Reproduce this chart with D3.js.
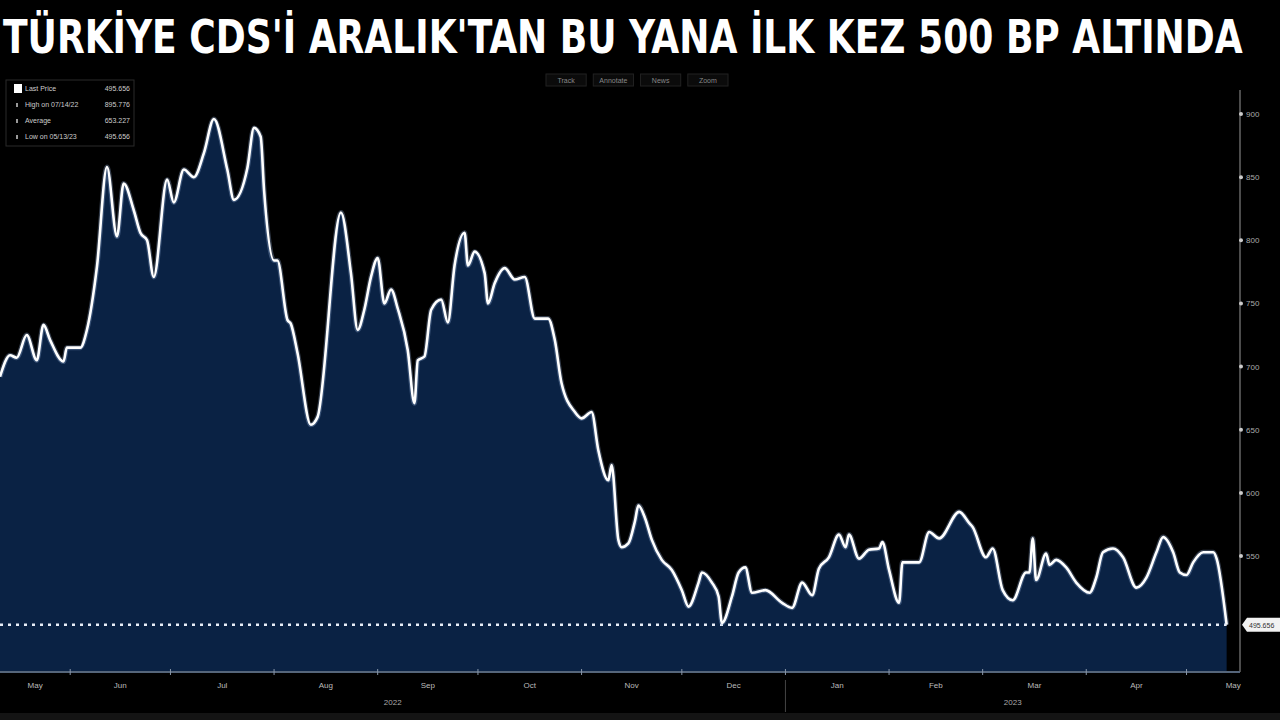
<!DOCTYPE html>
<html>
<head>
<meta charset="utf-8">
<script src="https://cdn.jsdelivr.net/npm/d3@7"></script>
<style>
  html, body { margin: 0; padding: 0; background: #000; }
  svg { display: block; }
</style>
</head>
<body>
<div id="container"></div>
<script>
// declaration
const w = 1280;
const h = 720;
const title = "TÜRKİYE CDS'İ ARALIK'TAN BU YANA İLK KEZ 500 BP ALTINDA";

// data
const dates = [
  "2022-05-11","2022-05-14","2022-05-16","2022-05-19","2022-05-22","2022-05-24","2022-05-26","2022-05-30","2022-05-31",
  "2022-06-04","2022-06-06","2022-06-09","2022-06-12","2022-06-15","2022-06-17","2022-06-20","2022-06-22","2022-06-24","2022-06-26","2022-06-30",
  "2022-07-02","2022-07-05","2022-07-08","2022-07-11","2022-07-14","2022-07-18","2022-07-20","2022-07-24","2022-07-26","2022-07-28","2022-07-29",
  "2022-08-01","2022-08-02","2022-08-05","2022-08-06","2022-08-08","2022-08-12","2022-08-14","2022-08-21","2022-08-24","2022-08-26","2022-08-28","2022-08-30",
  "2022-09-01","2022-09-03","2022-09-05","2022-09-07","2022-09-10","2022-09-12","2022-09-13","2022-09-15","2022-09-17","2022-09-20","2022-09-22","2022-09-24","2022-09-27","2022-09-28","2022-09-30",
  "2022-10-03","2022-10-04","2022-10-06","2022-10-09","2022-10-12","2022-10-15","2022-10-18","2022-10-22","2022-10-24","2022-10-26","2022-10-30",
  "2022-11-01","2022-11-04","2022-11-06","2022-11-09","2022-11-10","2022-11-12","2022-11-13","2022-11-15","2022-11-17","2022-11-18","2022-11-20","2022-11-22","2022-11-25","2022-11-28",
  "2022-12-01","2022-12-03","2022-12-06","2022-12-07","2022-12-10","2022-12-12","2022-12-13","2022-12-16","2022-12-18","2022-12-20","2022-12-22","2022-12-26","2022-12-31",
  "2023-01-03","2023-01-06","2023-01-09","2023-01-11","2023-01-14","2023-01-17","2023-01-19","2023-01-20","2023-01-23","2023-01-26","2023-01-29","2023-01-30",
  "2023-02-01","2023-02-04","2023-02-05","2023-02-10","2023-02-13","2023-02-16","2023-02-22","2023-02-25","2023-02-26",
  "2023-03-02","2023-03-04","2023-03-07","2023-03-10","2023-03-14","2023-03-15","2023-03-16","2023-03-17","2023-03-20","2023-03-21","2023-03-23","2023-03-26","2023-03-29",
  "2023-04-02","2023-04-04","2023-04-06","2023-04-09","2023-04-12","2023-04-16","2023-04-19","2023-04-22","2023-04-24","2023-04-27","2023-04-29",
  "2023-05-01","2023-05-03","2023-05-06","2023-05-09","2023-05-10","2023-05-13"
];
const cds = [
  692,709,707,725,705,733,721,704,715,
  715,729,779,858,803,845,824,806,800,771,848,
  830,856,850,869,896,856,832,857,889,882,840,
  784,784,737,734,711,654,660,822,774,729,745,771,
  786,750,761,746,713,671,705,708,745,753,735,780,806,780,791,
  774,750,766,778,769,771,738,738,721,687,664,
  659,664,634,610,622,563,557,560,578,590,580,563,547,539,
  523,510,529,537,529,518,497,518,537,541,521,523,513,
  509,529,519,540,549,567,557,567,548,555,556,561,
  539,513,545,545,569,564,585,576,573,
  549,556,523,515,537,537,564,531,552,543,547,541,529,
  521,533,553,556,549,525,533,553,565,553,537,
  535,545,553,553,548,495.656
];
const yTicks = [550, 600, 650, 700, 750, 800, 850, 900];
const months = ["2022-05","2022-06","2022-07","2022-08","2022-09","2022-10","2022-11","2022-12","2023-01","2023-02","2023-03","2023-04","2023-05"];
const monthNames = ["May","Jun","Jul","Aug","Sep","Oct","Nov","Dec","Jan","Feb","Mar","Apr","May"];
const years = ["2022", "2023"];
const legendLabels = ["Last Price", "High on 07/14/22", "Average", "Low on 05/13/23"];
const legendValues = ["495.656", "895.776", "653.227", "495.656"];
const buttons = ["Track", "Annotate", "News", "Zoom"];
const lastValue = 495.656;

const parse = d3.timeParse("%Y-%m-%d");
const series = dates.map((d, i) => ({ date: parse(d), value: cds[i] }));

// plot box
const plot = { left: 0, right: 1240, top: 90, bottom: 672 };

const x = d3.scaleTime()
  .domain([parse("2022-05-11"), parse("2023-05-17")])
  .range([plot.left, plot.right]);

const y = d3.scaleLinear()
  .domain([458.2, 919])
  .range([plot.bottom, plot.top]);

// svg
const svg = d3.select("#container")
  .append("svg")
  .attr("width", w)
  .attr("height", h)
  .attr("viewBox", `0 0 ${w} ${h}`);

svg.append("rect").attr("width", w).attr("height", h).attr("fill", "#000");

// title, squeezed horizontally to fit the width
const titleText = svg.append("text")
  .attr("x", 0)
  .attr("y", 0)
  .style("font-family", "'DejaVu Sans Condensed', 'Liberation Sans Narrow', sans-serif")
  .style("font-weight", "bold")
  .style("font-size", "47px")
  .attr("fill", "#fff")
  .text(title);
const titleLen = titleText.node().getComputedTextLength();
titleText.attr("transform", `translate(3,53) scale(${1240 / titleLen},1)`);

// area + line
const area = d3.area()
  .x(d => x(d.date))
  .y0(plot.bottom)
  .y1(d => y(d.value))
  .curve(d3.curveMonotoneX);

const line = d3.line()
  .x(d => x(d.date))
  .y(d => y(d.value))
  .curve(d3.curveMonotoneX);

svg.append("path")
  .datum(series)
  .attr("d", area)
  .attr("fill", "#0a2244");

// dotted last-price line
svg.append("line")
  .attr("x1", plot.left)
  .attr("x2", x(series[series.length - 1].date))
  .attr("y1", y(lastValue))
  .attr("y2", y(lastValue))
  .attr("stroke", "#e8eef8")
  .attr("stroke-width", 2.5)
  .attr("stroke-dasharray", "3,5");

svg.append("path")
  .datum(series)
  .attr("d", line)
  .attr("fill", "none")
  .attr("stroke", "#8fa8d0")
  .attr("stroke-opacity", 0.35)
  .attr("stroke-width", 5)
  .attr("stroke-linejoin", "round");

svg.append("path")
  .datum(series)
  .attr("d", line)
  .attr("fill", "none")
  .attr("stroke", "#fff")
  .attr("stroke-width", 2.6)
  .attr("stroke-linejoin", "round");

// right axis
const yAxis = svg.append("g").attr("transform", `translate(${plot.right},0)`);
yAxis.append("line")
  .attr("y1", plot.top)
  .attr("y2", plot.bottom)
  .attr("stroke", "#666")
  .attr("stroke-width", 1.5);
yAxis.selectAll("circle")
  .data(yTicks)
  .enter()
  .append("circle")
  .attr("cx", 1)
  .attr("cy", d => y(d))
  .attr("r", 2)
  .attr("fill", "#ccc");
yAxis.selectAll("text")
  .data(yTicks)
  .enter()
  .append("text")
  .attr("x", 6)
  .attr("y", d => y(d) + 3)
  .style("font-family", "'Liberation Sans', Arial, sans-serif")
  .style("font-size", "8px")
  .attr("fill", "#aaa")
  .text(d => d);

// last value tag
const tagY = y(lastValue);
svg.append("path")
  .attr("d", `M${plot.right + 2},${tagY} L${plot.right + 7},${tagY - 7} L${w},${tagY - 7} L${w},${tagY + 7} L${plot.right + 7},${tagY + 7} Z`)
  .attr("fill", "#f2f2f2");
svg.append("text")
  .attr("x", plot.right + 9)
  .attr("y", tagY + 3)
  .style("font-family", "'Liberation Sans', Arial, sans-serif")
  .style("font-size", "7px")
  .attr("fill", "#333")
  .text(d3.format(".3f")(lastValue));

// bottom axis
svg.append("line")
  .attr("x1", plot.left)
  .attr("x2", plot.right)
  .attr("y1", plot.bottom)
  .attr("y2", plot.bottom)
  .attr("stroke", "#55657a")
  .attr("stroke-width", 2);

const monthParse = d3.timeParse("%Y-%m");
const monthData = months.map((m, i) => {
  const start = monthParse(m);
  const end = d3.timeMonth.offset(start, 1);
  const a = Math.max(x(start), 0);
  const b = Math.min(x(end), w);
  return { name: monthNames[i], start, mid: (a + b) / 2 };
});

svg.selectAll(".mtick")
  .data(monthData.slice(1))
  .enter()
  .append("line")
  .attr("class", "mtick")
  .attr("x1", d => x(d.start))
  .attr("x2", d => x(d.start))
  .attr("y1", plot.bottom - 3)
  .attr("y2", plot.bottom + 3)
  .attr("stroke", "#8896a8")
  .attr("stroke-width", 1);

svg.selectAll(".mlabel")
  .data(monthData)
  .enter()
  .append("text")
  .attr("class", "mlabel")
  .attr("x", d => d.mid)
  .attr("y", 688)
  .attr("text-anchor", "middle")
  .style("font-family", "'Liberation Sans', Arial, sans-serif")
  .style("font-size", "8px")
  .attr("fill", "#bbb")
  .text(d => d.name);

// years
const yearData = years.map(yr => {
  const start = new Date(+yr, 0, 1);
  const end = new Date(+yr + 1, 0, 1);
  const a = Math.max(x(start), plot.left);
  const b = Math.min(x(end), plot.right);
  return { name: yr, start, mid: (a + b) / 2 };
});

svg.append("line")
  .attr("x1", x(yearData[1].start))
  .attr("x2", x(yearData[1].start))
  .attr("y1", plot.bottom + 8)
  .attr("y2", 712)
  .attr("stroke", "#444")
  .attr("stroke-width", 1);

svg.selectAll(".ylabel")
  .data(yearData)
  .enter()
  .append("text")
  .attr("class", "ylabel")
  .attr("x", d => d.mid)
  .attr("y", 705)
  .attr("text-anchor", "middle")
  .style("font-family", "'Liberation Sans', Arial, sans-serif")
  .style("font-size", "8px")
  .attr("fill", "#aaa")
  .text(d => d.name);

svg.append("rect")
  .attr("x", 0)
  .attr("y", 713)
  .attr("width", w)
  .attr("height", 7)
  .attr("fill", "#141414");

// legend
const legend = svg.append("g").attr("transform", "translate(6,80)");
legend.append("rect")
  .attr("width", 128)
  .attr("height", 66)
  .attr("fill", "#000")
  .attr("stroke", "#2a2a2a");
legend.selectAll(".lrow")
  .data(legendLabels)
  .enter()
  .append("text")
  .attr("class", "lrow")
  .attr("x", 19)
  .attr("y", (d, i) => 11 + i * 16)
  .style("font-family", "'Liberation Sans', Arial, sans-serif")
  .style("font-size", "7px")
  .attr("fill", "#ccc")
  .text(d => d);
legend.selectAll(".lval")
  .data(legendValues)
  .enter()
  .append("text")
  .attr("class", "lval")
  .attr("x", 124)
  .attr("y", (d, i) => 11 + i * 16)
  .attr("text-anchor", "end")
  .style("font-family", "'Liberation Sans', Arial, sans-serif")
  .style("font-size", "7px")
  .attr("fill", "#ccc")
  .text(d => d);
legend.selectAll(".lmark")
  .data(legendLabels)
  .enter()
  .append("rect")
  .attr("class", "lmark")
  .attr("x", (d, i) => i === 0 ? 8 : 10)
  .attr("y", (d, i) => i === 0 ? 4 : 7 + i * 16)
  .attr("width", (d, i) => i === 0 ? 8 : 2)
  .attr("height", (d, i) => i === 0 ? 9 : 4)
  .attr("fill", (d, i) => i === 0 ? "#fff" : "#999");

// top buttons
const btnX = d3.scaleBand().domain(buttons).range([546, 728]).paddingInner(0.15);
const btn = svg.append("g").selectAll("g")
  .data(buttons)
  .enter()
  .append("g")
  .attr("transform", d => `translate(${btnX(d)},74)`);
btn.append("rect")
  .attr("width", btnX.bandwidth())
  .attr("height", 12)
  .attr("fill", "#0b0b0b")
  .attr("stroke", "#222");
btn.append("text")
  .attr("x", btnX.bandwidth() / 2)
  .attr("y", 9)
  .attr("text-anchor", "middle")
  .style("font-family", "'Liberation Sans', Arial, sans-serif")
  .style("font-size", "7px")
  .attr("fill", "#888")
  .text(d => d);
</script>
</body>
</html>
